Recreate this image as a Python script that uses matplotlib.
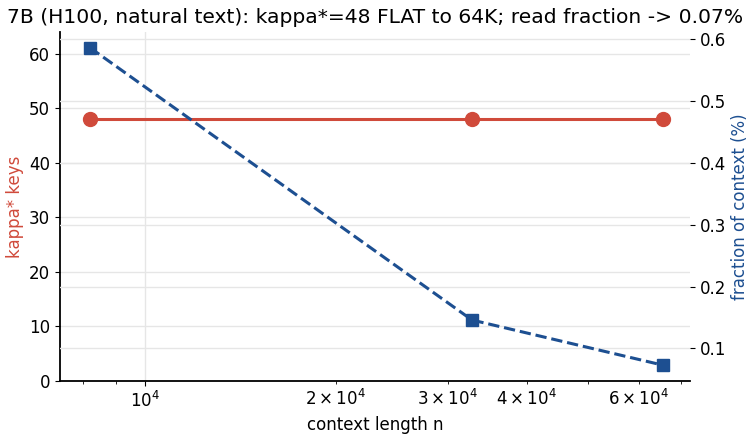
import matplotlib
matplotlib.use('Agg')
import matplotlib.pyplot as plt

# data
context_len = [8192, 32768, 65536]
kappa_keys = [48, 48, 48]
read_fraction = [0.586, 0.146, 0.073]  # percent of context

red = '#d04a3b'
blue = '#1d4f91'

fig, ax1 = plt.subplots(figsize=(7.49, 4.36), dpi=100)
fig.subplots_adjust(left=0.08, right=0.921, top=0.927, bottom=0.126)

ax1.plot(context_len, kappa_keys, color=red, lw=2.2, marker='o', ms=10, zorder=3)
ax1.set_xscale('log')
ax1.set_xlim(7345, 72240)
ax1.set_ylim(0, 64)
ax1.set_ylabel('kappa* keys', color=red, fontsize=12)
ax1.set_xlabel('context length n', fontsize=12)
ax1.tick_params(which='both', labelsize=12)
ax1.grid(True, color='#e6e6e6', lw=1)
ax1.spines['top'].set_visible(False)
ax1.spines['right'].set_visible(False)
ax1.spines['left'].set_linewidth(1.3)
ax1.spines['bottom'].set_linewidth(1.3)

ax2 = ax1.twinx()
ax2.plot(context_len, read_fraction, color=blue, lw=2.2, ls='--', marker='s', ms=8, zorder=3)
ax2.set_ylabel('fraction of context (%)', color=blue, fontsize=12)
ax2.tick_params(labelsize=12)
ax2.grid(True, axis='y', color='#e6e6e6', lw=1)
for s in ['top', 'right', 'left', 'bottom']:
    ax2.spines[s].set_visible(False)

ax1.set_title('7B (H100, natural text): kappa*=48 FLAT to 64K; read fraction -> 0.07%', fontsize=14.6)

plt.savefig('out.png', dpi=100)
